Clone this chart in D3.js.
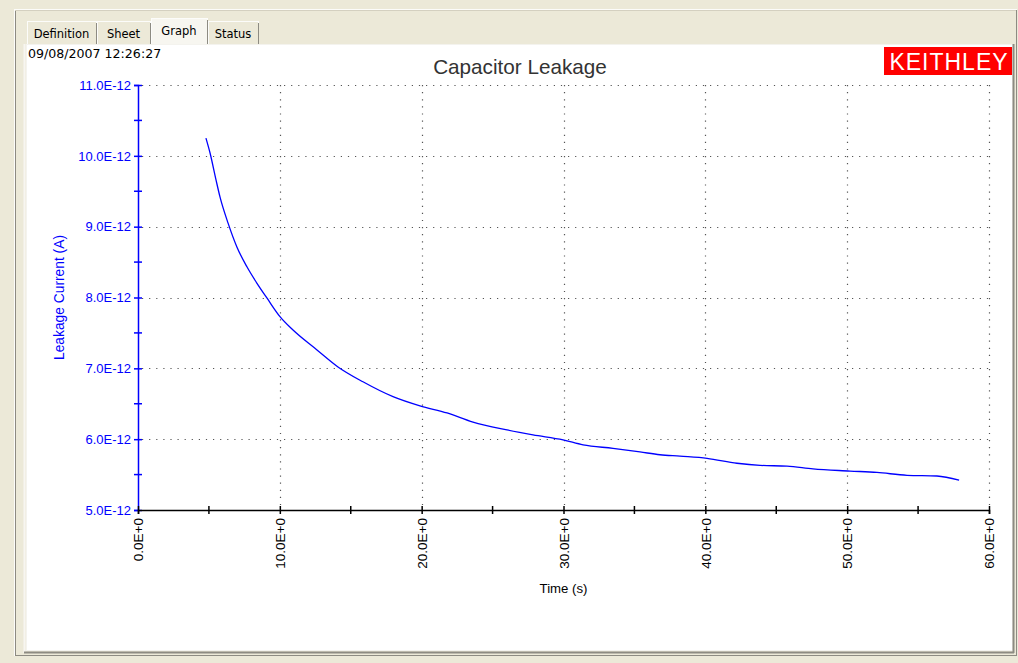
<!DOCTYPE html>
<html>
<head>
<meta charset="utf-8">
<script src="https://cdn.jsdelivr.net/npm/d3@7"></script>
<style>
  body { margin: 0; background: #ece9d8; }
  svg { display: block; font-family: "Liberation Sans", Arial, sans-serif; }
</style>
</head>
<body>
<div id="wrapper"></div>
<script>
// data
const timeValues = [4.79, 5.08, 5.5, 5.78, 6.35, 6.98, 7.69, 8.39, 9.1, 10.01, 10.93, 12.62, 14.1, 15.86, 17.98, 19.88, 21.79, 23.62, 26.02, 27.85, 29.97, 31.38, 33.49, 35.39, 36.8, 38.21, 40.12, 42.23, 43.86, 45.76, 47.59, 50.2, 52.1, 54.22, 56.33, 57.89];
const currentValues = [10.25, 10.04, 9.66, 9.42, 9.05, 8.71, 8.43, 8.2, 7.99, 7.73, 7.54, 7.26, 7.02, 6.81, 6.6, 6.47, 6.37, 6.24, 6.13, 6.06, 5.99, 5.92, 5.87, 5.82, 5.78, 5.76, 5.73, 5.66, 5.63, 5.62, 5.58, 5.55, 5.53, 5.49, 5.48, 5.42]; // x 1E-12 A
const xTicks = [0, 10, 20, 30, 40, 50, 60];
const xMinorTicks = [5, 15, 25, 35, 45, 55];
const yTicks = [5, 6, 7, 8, 9, 10, 11];
const yMinorTicks = [5.5, 6.5, 7.5, 8.5, 9.5, 10.5];
const tabNames = ["Definition", "Sheet", "Graph", "Status"];

const dataset = timeValues.map((t, i) => ({ t: t, v: currentValues[i] }));

const width = 1018;
const height = 663;
const plot = { left: 138, right: 989, top: 85, bottom: 510 };

const svg = d3.select("#wrapper").append("svg")
  .attr("width", width).attr("height", height);

// window frame
svg.append("rect").attr("width", width).attr("height", height).attr("fill", "#ece9d8");
svg.append("rect").attr("x", 14.5).attr("y", 9.5).attr("width", 1002).attr("height", 646)
  .attr("fill", "none").attr("stroke", "#fcfcfa");
svg.append("line").attr("x1", 15.5).attr("x2", 15.5).attr("y1", 10).attr("y2", 656).attr("stroke", "#8d8b82");
svg.append("line").attr("x1", 15).attr("x2", 1016).attr("y1", 10.5).attr("y2", 10.5).attr("stroke", "#d4d0c0");
svg.append("line").attr("x1", 1016.5).attr("x2", 1016.5).attr("y1", 10).attr("y2", 656).attr("stroke", "#8d8b82");
svg.append("line").attr("x1", 15).attr("x2", 1017).attr("y1", 655.5).attr("y2", 655.5).attr("stroke", "#8d8b82");

// tabs
const tabX = [27, 97, 151, 208, 259];
tabNames.forEach((name, i) => {
  const sel = name === "Graph";
  const x0 = tabX[i], x1 = tabX[i + 1] - 1;
  const y0 = sel ? 18 : 21;
  svg.append("rect").attr("x", x0 + 0.5).attr("y", y0 + 0.5)
    .attr("width", x1 - x0).attr("height", 45 - y0)
    .attr("fill", sel ? "#f7f6f0" : "#ece9d8")
    .attr("stroke", "#fcfcfa");
  svg.append("line").attr("x1", x1 + 0.5).attr("x2", x1 + 0.5).attr("y1", y0 + 2).attr("y2", 44)
    .attr("stroke", "#8d8b82");
  svg.append("text").attr("x", (x0 + x1) / 2).attr("y", sel ? 35 : 38)
    .attr("text-anchor", "middle").attr("fill", "#000")
    .style("font-family", "'DejaVu Sans', sans-serif").attr("font-size", 11.5)
    .text(name);
});

// white panel
svg.append("rect").attr("x", 26.5).attr("y", 44.5).attr("width", 986).attr("height", 606)
  .attr("fill", "#fff").attr("stroke", "#f4f3ee");
svg.append("line").attr("x1", 24.5).attr("x2", 24.5).attr("y1", 44).attr("y2", 653).attr("stroke", "#f7f6f1").attr("stroke-width", 2);
svg.append("line").attr("x1", 24).attr("x2", 1014).attr("y1", 652.5).attr("y2", 652.5).attr("stroke", "#8d8b82").attr("stroke-width", 2);
svg.append("line").attr("x1", 1013.5).attr("x2", 1013.5).attr("y1", 44).attr("y2", 653).attr("stroke", "#8d8b82").attr("stroke-width", 2);

// header texts
svg.append("text").attr("x", 28).attr("y", 58).attr("fill", "#000")
  .style("font-family", "'DejaVu Sans', sans-serif").attr("font-size", 12.6)
  .text("09/08/2007 12:26:27");
svg.append("text").attr("x", 520).attr("y", 74).attr("text-anchor", "middle")
  .attr("font-size", 20.7).attr("fill", "#333").text("Capacitor Leakage");
svg.append("rect").attr("x", 884).attr("y", 47).attr("width", 128).attr("height", 28).attr("fill", "#ff0000");
svg.append("text").attr("x", 949).attr("y", 70).attr("text-anchor", "middle")
  .attr("font-size", 23).attr("fill", "#fff").attr("letter-spacing", 1).text("KEITHLEY");

// scales
const xScale = d3.scaleLinear().domain([0, 60]).range([plot.left, plot.right]);
const yScale = d3.scaleLinear().domain([5, 11]).range([plot.bottom, plot.top]);

// grid
const grid = svg.append("g").attr("stroke", "#555").attr("stroke-width", 1.2).attr("stroke-dasharray", "1.2,5.9");
grid.selectAll(".hgrid").data(yTicks.slice(1)).join("line")
  .attr("x1", plot.left + 4).attr("x2", plot.right)
  .attr("y1", d => Math.round(yScale(d)) + 0.5).attr("y2", d => Math.round(yScale(d)) + 0.5);
grid.selectAll(".vgrid").data(xTicks.slice(1)).join("line")
  .attr("y1", plot.top).attr("y2", plot.bottom - 4)
  .attr("x1", d => Math.round(xScale(d)) + 0.5).attr("x2", d => Math.round(xScale(d)) + 0.5);

// y axis (blue)
const yAxis = svg.append("g").attr("transform", `translate(${plot.left},0)`)
  .call(d3.axisLeft(yScale).tickValues(yTicks).tickSize(4).tickPadding(4)
    .tickFormat(d => d3.format(".1f")(d) + "E-12"));
yAxis.select(".domain").attr("stroke", "#0000ff").attr("stroke-width", 1.5);
yAxis.selectAll(".tick line").attr("stroke", "#0000ff").attr("x2", 4).attr("x1", -4).attr("stroke-width", 1.5);
yAxis.selectAll(".tick text").attr("fill", "#0000ff").attr("font-size", 13)
  .attr("x", -7).style("font-family", "'Liberation Sans', Arial, sans-serif");
svg.append("g").selectAll("line").data(yMinorTicks).join("line")
  .attr("x1", plot.left - 4).attr("x2", plot.left + 4)
  .attr("y1", d => yScale(d)).attr("y2", d => yScale(d))
  .attr("stroke", "#0000ff").attr("stroke-width", 1.5);

svg.append("text")
  .attr("transform", `translate(64,${(plot.top + plot.bottom) / 2}) rotate(-90)`)
  .attr("text-anchor", "middle").attr("font-size", 13.8).attr("fill", "#0000ff")
  .text("Leakage Current (A)");

// x axis (black)
const xAxis = svg.append("g").attr("transform", `translate(0,${plot.bottom})`)
  .call(d3.axisBottom(xScale).tickValues(xTicks).tickSize(4)
    .tickFormat(d => d3.format(".1f")(d) + "E+0"));
xAxis.select(".domain").attr("stroke", "#000").attr("stroke-width", 1.5);
xAxis.selectAll(".tick line").attr("stroke", "#000").attr("y1", -4).attr("y2", 4).attr("stroke-width", 1.5);
xAxis.selectAll(".tick text")
  .attr("fill", "#000").attr("font-size", 13.5)
  .attr("transform", "rotate(-90)").attr("x", -8).attr("y", 0).attr("dy", "0.35em")
  .attr("text-anchor", "end").style("font-family", "'Liberation Sans', Arial, sans-serif");
svg.append("g").selectAll("line").data(xMinorTicks).join("line")
  .attr("y1", plot.bottom - 4).attr("y2", plot.bottom + 4)
  .attr("x1", d => xScale(d)).attr("x2", d => xScale(d))
  .attr("stroke", "#000").attr("stroke-width", 1.5);

svg.append("text").attr("x", xScale(30)).attr("y", 593).attr("text-anchor", "middle")
  .attr("font-size", 13.2).attr("fill", "#000").text("Time (s)");

// curve
const lineGenerator = d3.line().curve(d3.curveMonotoneX).x(d => xScale(d.t)).y(d => yScale(d.v));
svg.append("path").datum(dataset).attr("d", lineGenerator)
  .attr("fill", "none").attr("stroke", "#0000ff").attr("stroke-width", 1.3);
</script>
</body>
</html>
